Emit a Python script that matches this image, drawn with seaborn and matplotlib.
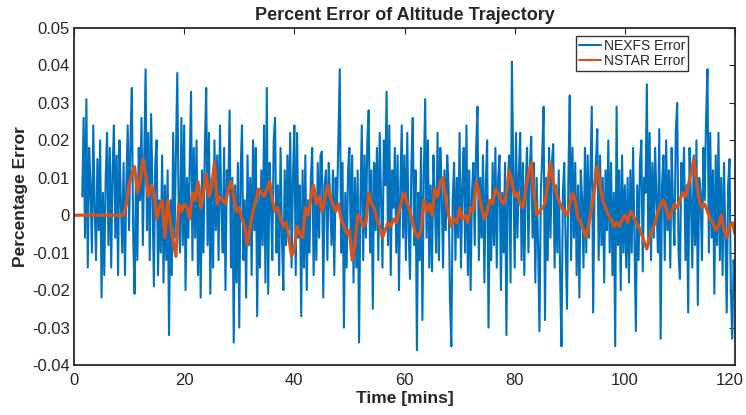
import numpy as np
import pandas as pd
import matplotlib
matplotlib.use("Agg")
import matplotlib.pyplot as plt
import matplotlib.transforms as mtransforms
import seaborn as sns
from matplotlib.ticker import FuncFormatter

# ---- data (values in units of 0.001) ----
nexfs_milli = [
    5, 26,
    -6, 31, -14, 18,  8, -10, 24, 2,  -12, 15, -4, 20,  -22, 6, -16, 10,  22, -8, 18, -14,
    12, 24, -6, 16,  -16, 20, 4, -10,  14, -16, 8, 24,  -4, 20, 34, -6,  -21, 10, -12, 18,
    4, 26, -8, 16,  39, -4, 22, -12,  27, 6, -19, 14,  20, -16, 4, -10,  16, -18, 8, -12,
    12, -32, 4, -16,  22, -6, 16, 38,  2, -10, 26, -8,  24, -20, 10, -6,
    14, 33, -12, 18,  -6, 20, -16, 8,  -22, 12, -10, 18,  34, -8, 22, -21,  10, -14, 20, -4,
    16, -12, 24, 2,  -10, 18, -20, 12,  6, 28, -14, 10,  -34, 8, -18, 14,  -30, 12, 24, -12,
    4, -22, 16, -8,  10, -16, 20, -4,  18, -27, 6, -14,  12, -8, 24, -18,  34, -21, 14, 4,
    -12, 20, 26, -10,  8, -16, 18, -6,  -20, 12, -8, 16,  -4, 22, -14, 10,  24, -16, 22, -6,
    8, -27, 12, -14,  16, -20, 4, -10,  10, 18, -16, 6,  -12, 14, -6, 16,  17, -22, 8, 12,
    -12, 14, 4, -8,  12, -16, 10, 2,  20, 39, -10, 14,  -30, 6, -14, 12,  18, -8, 16, -18,
    10, -14, 12, -34,  4, 24, -12, 16,  -6, 20, 28, -10,  12, -25, 14, -4,  18, -12, 22, 4,
    -14, 20, 8, 33,  -8, 24, -16, 12,  2, 18, -10, 16,  -20, 8, 24, -6,  16, -12, 22, -4,
    -17, 14, 26, -8,  12, -36, 6, -12,  18, -28, 10, 31,  -6, 20, -14, 8,  -15, 16, 4, -10,
    22, -12, 18, 6,  -14, 12, -4, 16,  8, -22, -35, 4,  14, -12, 10, -6,  22, -14, 8, 18,
    -10, 24, -16, 12,  -20, 6, 14, -8,  18, 29, -12, 10,  -6, 16, -18, 8,  20, -30, 4, -12,
    14, -8, 18, -14,  10, 16, -20, 6,  -10, 14, -32, 8,  16, -18, 41, 12,  -14, 22, -6, 10,
    22, -12, 14, -16,  8, 18, -10, 12,  21, -6, 14, -18,  10, -8, -31, 6,  16, 29, -28, 10,
    -12, 18, -6, 14,  19, -14, 8, -10,  12, -16, -35, 6,  14, -8, -25, 10,  32, -12, 18, -6,
    14, -16, 8, -22,  12, 4, -14, 18,  -10, 16, -6, 12,  29, -26, 8, 14,  23, -12, 16, -8,
    10, -18, 12, -4,  20, -10, 14, -16,  6, -35, 29, -8,  12, -20, 16, -10,  8, -14, 10, -18,
    12, -10, 18, -6,  -31, 8, -12, 14,  20, -15, 10, 6,  35, -8, 22, -12,  14, -6, 18, 4,
    -10, 23, -33, 8,  16, -12, 20, -4,  12, -14, 18, 2,  -8, 22, 30, -10,  -17, 14, 6, 18,
    -12, 8, -26, 18,  4, -14, 16, -8,  20, -24, 10, 6,  -12, 18, 4, 26,  39, -10, 22, -6,
    12, -21, 16, -8,  22, -12, 10, -16,  14, -6, -26, 8,  15, -20, -33, -12,
    -20,
]

nstar_milli = [
    0, 0, 0, 0, 0, 0, 0, 0, 0, 0, 0, 0, 0, 0, 0, 0, 0, 0, 0,
    3, 8, 11, 13, 6, 9, 15, 11, 5, 8, 6, -1, 2, 4, -6, 4, -2, -7, -11, 3, 1,
    3, 2, -1, 6, 4, 9, 2, 6, 11, 5, 8, 14, 3, 5, 4, 3, 7, 9, 5, 1,
    2, -1, -3, -8, -3, 1, 4, 7, 6, 5, 7, 9, 4, 1, 2, -1, -3, -2, -6, -11,
    -9, -3, -5, -6, 2, 0, 5, 8, 3, 5, 1, 4, 8, 5, 3, 1, 3, -1, -3, -5,
    -4, -12, -8, 0, -1, -3, -2, 6, 3, 2, -1, -3, -6, -4, -2, -3, -1, -2, 1, 4,
    6, 3, 1, -2, -5, -6, -4, 4, 1, 3, 0, 7, 5, 9, 10, 4, 0, -3, -1, -2,
    2, -1, 0, -2, 2, 1, 9, 6, 2, -1, 1, 4, 3, 7, 6, 4, 3, 6, 12, 9,
    5, 6, 3, 2, 7, 11, 14, 6, 0, 1, 2, 3, 8, 14, 9, 6, 4, 2, 1, 0,
    3, 6, 4, -1, -2, -4, -6, -2, 2, 7, 13, 8, 4, 2, 0, -1, -3, -2, -3, -1,
    0, -2, 1, 0, -2, -3, -5, -7, -9, -6, -4, -2, 1, 3, 4, 2, -1, 1, 3, 2,
    4, 6, 5, 8, 11, 15, 9, 4, 2, 3, 1, -1, -2, -4, -3, 0, -4, -6, -3, -2,
    -5,
]

x_ticks = [0, 20, 40, 60, 80, 100, 120]
y_ticks = [-0.04, -0.03, -0.02, -0.01, 0, 0.01, 0.02, 0.03, 0.04, 0.05]

nexfs = np.array(nexfs_milli) / 1000.0
nstar = np.array(nstar_milli) / 1000.0
t_nexfs = np.linspace(1.5, 120, len(nexfs))
t_nstar = np.linspace(0, 120, len(nstar))

df1 = pd.DataFrame({"t": t_nexfs, "err": nexfs})
df2 = pd.DataFrame({"t": t_nstar, "err": nstar})

sns.set_style("white")
plt.rcParams["font.family"] = ["Liberation Sans", "DejaVu Sans"]
plt.rcParams["axes.unicode_minus"] = False

fig = plt.figure(figsize=(7.46, 4.15), dpi=100)
ax = fig.add_axes([74 / 746, 50 / 415, 661 / 746, 337 / 415])

sns.lineplot(data=df1, x="t", y="err", ax=ax, color="#0072BD", linewidth=1.5,
             estimator=None, label="NEXFS Error")
sns.lineplot(data=df2, x="t", y="err", ax=ax, color="#D95319", linewidth=2.3,
             estimator=None, label="NSTAR Error")

ax.set_xlim(0, 120)
ax.set_ylim(-0.04, 0.05)
ax.set_xticks(x_ticks)
ax.set_yticks(y_ticks)
ax.yaxis.set_major_formatter(FuncFormatter(lambda v, p: "0" if abs(v) < 1e-9 else f"{v:.2f}"))
ax.tick_params(direction="in", top=True, right=True, length=4, width=0.8,
               labelsize=12, colors="#262626", pad=3)
ax.tick_params(axis="x", pad=6)
for s in ax.spines.values():
    s.set_linewidth(1.3)
    s.set_color("#262626")

ax.set_title("Percent Error of Altitude Trajectory", fontsize=13, fontweight="bold", pad=6)
ax.set_xlabel("Time [mins]", fontsize=12.5, fontweight="bold", labelpad=2)
ax.set_ylabel("Percentage Error", fontsize=12.5, fontweight="bold", labelpad=3)

# keep the last x tick label inside the figure, as in the reference
last_lbl = ax.get_xticklabels()[-1]
last_lbl.set_transform(last_lbl.get_transform() +
                       mtransforms.ScaledTranslation(-5 / 100, 0, fig.dpi_scale_trans))

leg = ax.legend(loc="upper right", bbox_to_anchor=(0.929, 0.975), fontsize=10,
                frameon=True, fancybox=False, handlelength=1.6, handletextpad=0.2,
                borderpad=0.2, labelspacing=0.05, borderaxespad=0)
leg.get_frame().set_edgecolor("black")
leg.get_frame().set_linewidth(1.0)
for line in leg.get_lines():
    line.set_linewidth(1.5)

fig.savefig("out.png", dpi=100)
